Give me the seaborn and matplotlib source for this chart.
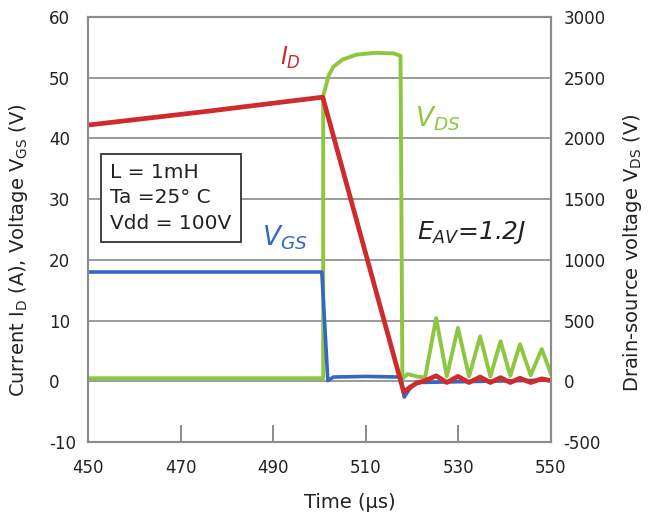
import matplotlib
matplotlib.use("Agg")
import matplotlib.pyplot as plt
import seaborn as sns

# ---------------- data ----------------
x_ticks = [450, 470, 490, 510, 530, 550]
left_ticks = [-10, 0, 10, 20, 30, 40, 50, 60]
right_ticks = [-500, 0, 500, 1000, 1500, 2000, 2500, 3000]

# Drain current I_D (A), left axis
time_id = [450, 475, 500.7, 518.2, 519.5, 521.0, 522.8, 525.2, 527.5, 529.9,
           532.3, 534.7, 536.9, 539.1, 541.2, 543.3, 545.6, 548.0, 550]
current_id = [42.2, 44.4, 46.8, -1.8, -1.0, -0.3, 0.1, 0.9, -0.2, 0.8,
              -0.2, 0.7, -0.2, 0.6, -0.2, 0.5, -0.2, 0.4, 0.1]

# Gate-source voltage V_GS (V), left axis
time_vgs = [450, 500.5, 501.8, 503.0, 510, 517.5, 518.3, 519.5, 521, 550]
vgs = [18.0, 18.0, 0.1, 0.7, 0.8, 0.7, -2.6, -1.2, -0.2, 0.2]

# Drain-source voltage V_DS (V), right axis
time_vds = [450, 500.8, 500.8, 502, 503, 505, 508, 512, 516, 517.5, 517.9,
            519.0, 521.0, 522.8, 525.2, 527.5, 529.9, 532.3, 534.7, 536.9,
            539.1, 541.2, 543.3, 545.6, 548.0, 550]
vds = [25, 25, 2350, 2520, 2590, 2650, 2690, 2705, 2700, 2680, 20,
       60, 40, 30, 520, 40, 440, 40, 370, 40,
       330, 45, 305, 50, 265, 60]

RED = "#cf2a2c"
GREEN = "#8dc63f"
BLUE = "#3466c4"
GRID = "#9a9a9a"
SPINE = "#8c8c8c"
TXT = "#222222"

# ---------------- figure ----------------
sns.set_theme(style="white")
plt.rcParams["font.family"] = ["DejaVu Sans"]
plt.rcParams["mathtext.fontset"] = "dejavusans"
plt.rcParams["axes.unicode_minus"] = False

W, H = 650, 518
fig = plt.figure(figsize=(W / 100, H / 100), dpi=100)
L, R, T, B = 88, 551, 17, 442
ax = fig.add_axes([L / W, 1 - B / H, (R - L) / W, (B - T) / H])
ax2 = ax.twinx()
ax.set_zorder(ax2.get_zorder() + 1)
ax.patch.set_visible(False)

sns.lineplot(x=time_vds, y=vds, ax=ax2, color=GREEN, lw=2.8,
             estimator=None, sort=False)
sns.lineplot(x=time_vgs, y=vgs, ax=ax, color=BLUE, lw=2.6,
             estimator=None, sort=False)
sns.lineplot(x=time_id, y=current_id, ax=ax, color=RED, lw=3.4,
             estimator=None, sort=False)

ax.set_xlim(450, 550)
ax.set_ylim(-10, 60)
ax2.set_ylim(-500, 3000)
ax.set_xticks(x_ticks)
ax.set_yticks(left_ticks)
ax2.set_yticks(right_ticks)

ax.grid(False)
ax2.grid(False)
ax2.yaxis.grid(True, color=GRID, lw=1.4)

for a in (ax, ax2):
    for s in a.spines.values():
        s.set_color(SPINE)
        s.set_linewidth(1.5)

ax.tick_params(axis="x", direction="in", length=12, width=1.4, color=SPINE,
               pad=12, labelsize=12, labelcolor=TXT, bottom=True, top=False)
ax.tick_params(axis="y", length=0, pad=28, labelsize=12, labelcolor=TXT)
for lbl in ax.get_yticklabels():
    lbl.set_ha("left")
ax2.tick_params(axis="y", length=0, pad=9, labelsize=12, labelcolor=TXT)

ax.set_xlabel("Time (µs)", fontsize=14, color=TXT, va="center")
ax.xaxis.set_label_coords((350 - L) / (R - L), (B - 503) / (B - T))
ax.set_ylabel(r"Current I$_\mathrm{D}$ (A), Voltage V$_\mathrm{GS}$ (V)",
              fontsize=14, color=TXT, va="center")
ax.yaxis.set_label_coords((19 - L) / (R - L), (B - 250) / (B - T))
ax2.set_ylabel(r"Drain-source voltage V$_\mathrm{DS}$ (V)", fontsize=14,
               color=TXT, va="center", rotation=90)
ax2.yaxis.set_label_coords((633 - L) / (R - L), (B - 253) / (B - T))

# annotations
ax.text(491.5, 52.1, r"$\mathit{I_D}$", color=RED, fontsize=17,
        ha="left", va="baseline")
ax.text(520.6, 41.9, r"$\mathit{V_{DS}}$", color=GREEN, fontsize=19,
        ha="left", va="baseline")
ax.text(487.5, 22.4, r"$\mathit{V_{GS}}$", color=BLUE, fontsize=19,
        ha="left", va="baseline")
ax.text(521.0, 23.5, r"$\mathit{E_{AV}}$=1.2J", color=TXT, fontsize=18,
        fontstyle="italic", ha="left", va="baseline")

ax.text(454.8, 36.0, "L = 1mH\nTa =25° C\nVdd = 100V", fontsize=14.5,
        color=TXT, ha="left", va="top", linespacing=1.45,
        bbox=dict(boxstyle="square,pad=0.45", fc="white", ec="#333333",
                  lw=1.3))

fig.savefig("out.png", dpi=100)
